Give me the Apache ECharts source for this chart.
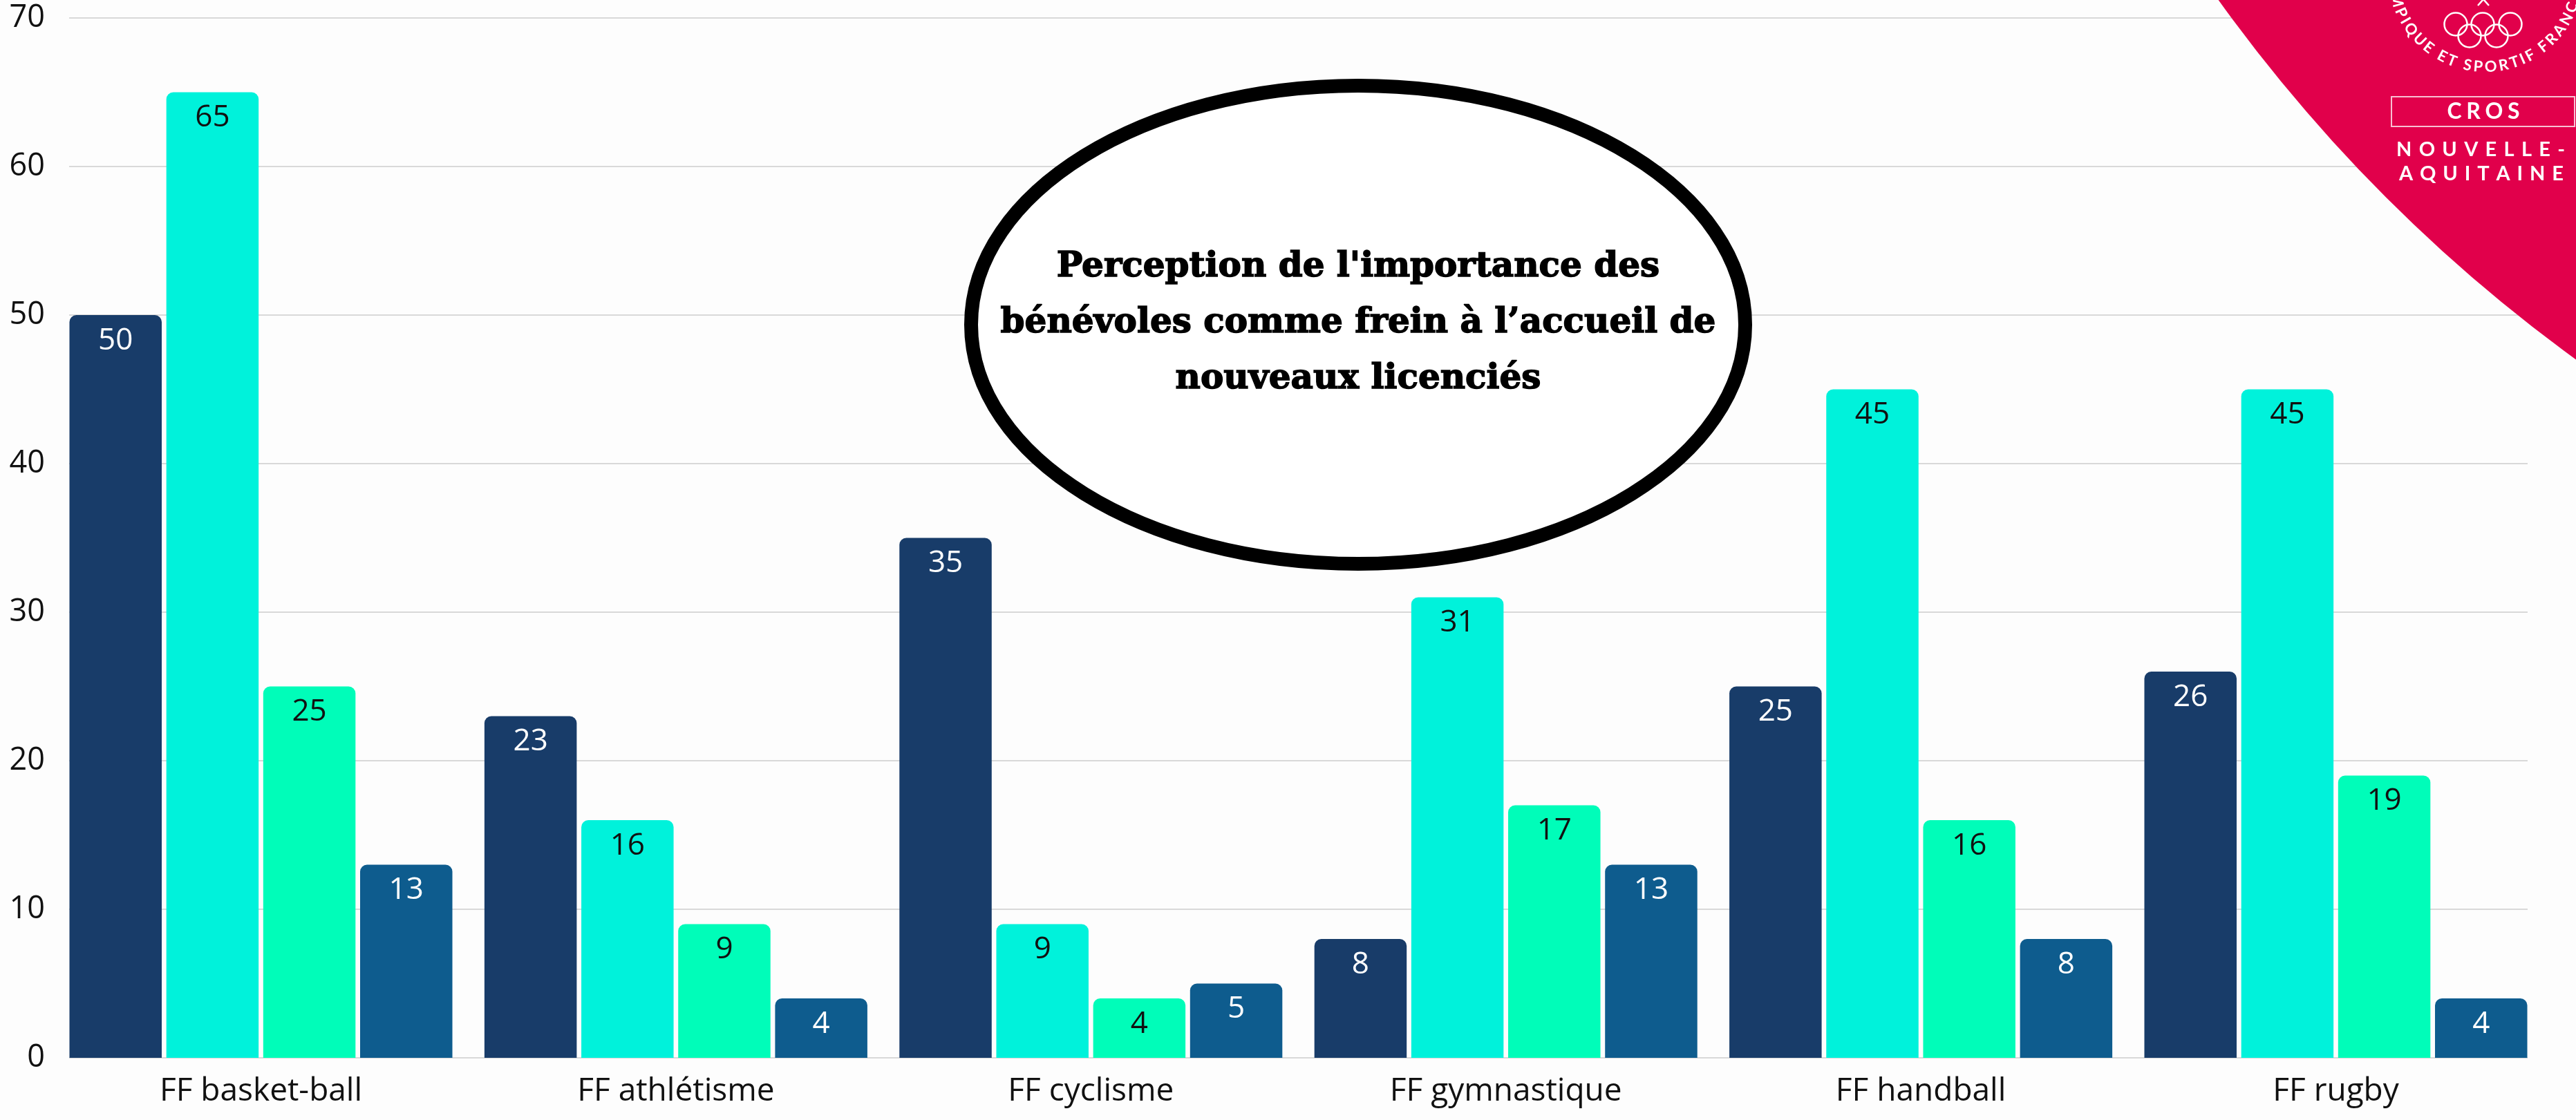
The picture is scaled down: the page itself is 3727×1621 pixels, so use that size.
<!DOCTYPE html>
<html><head><meta charset="utf-8">
<script src="https://cdn.jsdelivr.net/npm/echarts@6/dist/echarts.min.js"></script>
<style>html,body{margin:0;padding:0;background:#fdfdfd}#c{width:3727px;height:1621px}</style>
</head><body><div id="c"></div>
<script>
// ---- data ----
const categories = ['FF basket-ball', 'FF athlétisme', 'FF cyclisme', 'FF gymnastique', 'FF handball', 'FF rugby'];
const serie1 = [50, 23, 35, 8, 25, 26];
const serie2 = [65, 16, 9, 31, 45, 45];
const serie3 = [25, 9, 4, 17, 16, 19];
const serie4 = [13, 4, 5, 13, 8, 4];
const seriesNames = ['Série 1', 'Série 2', 'Série 3', 'Série 4'];
const yMin = 0, yMax = 70, yInterval = 10;
const titleLines = ["Perception de l'importance des", "bénévoles comme frein à l’accueil de", "nouveaux licenciés"];
const logoRing = 'OLYMPIQUE ET SPORTIF FRANÇAIS';
const logoLines = ['CROS', 'NOUVELLE-', 'AQUITAINE'];

// ---- styles ----
const colors = ['#183c69', '#00f2db', '#00fdb9', '#0e5c8e'];
const labelColors = ['#ffffff', '#111111', '#111111', '#ffffff'];
const FONT = '"Open Sans", "Noto Sans", sans-serif';
const RED = '#e1004b';

const chart = echarts.init(document.getElementById('c'));

const measureCtx = document.createElement('canvas').getContext('2d');
function charWidths(text, font) {
  measureCtx.font = font;
  return Array.from(text).map(ch => measureCtx.measureText(ch).width);
}
function spreadText(text, cx, cy, fontSize, fontWeight, family, totalWidth, z) {
  const ws = charWidths(text, fontWeight + ' ' + fontSize + 'px ' + family);
  const sum = ws.reduce((a, b) => a + b, 0);
  const sp = (totalWidth - sum) / (ws.length - 1);
  let x = cx - totalWidth / 2;
  const out = [];
  Array.from(text).forEach((ch, i) => {
    out.push({ type: 'text', x: x + ws[i] / 2, y: cy, z: z,
      style: { text: ch, fill: '#ffffff', fontSize: fontSize, fontWeight: fontWeight, fontFamily: family, align: 'center', verticalAlign: 'middle' } });
    x += ws[i] + sp;
  });
  return out;
}

const graphics = [];
// title ellipse
graphics.push({ type: 'ellipse', shape: { cx: 1965, cy: 470, rx: 560, ry: 346 },
  style: { fill: '#ffffff', stroke: '#000000', lineWidth: 20 }, z: 10 });
graphics.push({ type: 'text', x: 1965, y: 468, z: 11,
  style: { text: titleLines.join('\n'), fill: '#000000', stroke: '#000000', lineWidth: 1.6,
    fontSize: 50, fontWeight: 'bold',
    fontFamily: '"DejaVu Serif", serif', align: 'center', verticalAlign: 'middle', lineHeight: 81 } });

// logo
graphics.push({ type: 'circle', shape: { cx: 5080, cy: -1342, r: 2302 }, style: { fill: RED }, z: 20 });
(function () {
  const rc = { cx: 3596, cy: -37, r: 134 };
  const chars = Array.from(logoRing);
  const ws = charWidths(logoRing, 'bold 22px Lato');
  const iM = 3, iC = 25;            // anchors: 'M' at 164deg, 'Ç' at 21deg
  let base = 0;
  for (let i = iM; i < iC; i++) base += (ws[i] + ws[i + 1]) / 2;
  const arcLen = (164 - 21) * Math.PI / 180 * rc.r;
  const sp = (arcLen - base) / (iC - iM);
  const pos = [0];
  for (let i = 1; i < chars.length; i++) pos.push(pos[i - 1] + (ws[i - 1] + ws[i]) / 2 + sp);
  chars.forEach((ch, i) => {
    const thDeg = 164 - (pos[i] - pos[iM]) / rc.r * 180 / Math.PI;
    const th = thDeg * Math.PI / 180;
    graphics.push({ type: 'text', x: rc.cx + rc.r * Math.cos(th), y: rc.cy + rc.r * Math.sin(th),
      rotation: Math.PI / 2 - th, z: 21,
      style: { text: ch, fill: '#ffffff', fontSize: 22, fontWeight: 'bold', fontFamily: 'Lato, sans-serif', align: 'center', verticalAlign: 'middle' } });
  });
})();
[[3553, 35], [3592, 35], [3632, 35], [3573, 52], [3612, 52]].forEach(p => {
  graphics.push({ type: 'circle', shape: { cx: p[0], cy: p[1], r: 16.5 }, z: 21,
    style: { fill: 'none', stroke: '#ffffff', lineWidth: 2.5 } });
});
graphics.push({ type: 'polyline', shape: { points: [[3585, 8], [3593, -1], [3601, 8]] }, z: 21,
  style: { fill: 'none', stroke: '#ffffff', lineWidth: 2.5 } });
graphics.push({ type: 'rect', shape: { x: 3460, y: 140, width: 265, height: 43 }, z: 21,
  style: { fill: 'none', stroke: 'rgba(255,255,255,0.75)', lineWidth: 2 } });
spreadText(logoLines[0], 3593, 162, 32, 'bold', 'Lato', 105, 22).forEach(g => graphics.push(g));
spreadText(logoLines[1], 3589, 217, 29, 'bold', 'Lato', 244, 22).forEach(g => graphics.push(g));
spreadText(logoLines[2], 3590, 252, 29, 'bold', 'Lato', 238, 22).forEach(g => graphics.push(g));

const data = [serie1, serie2, serie3, serie4];
const series = data.map((d, i) => ({
  name: seriesNames[i], type: 'bar', xAxisIndex: 1, yAxisIndex: 1, data: d,
  barWidth: 133.5, barGap: '5%',
  itemStyle: { color: colors[i], borderRadius: [10, 10, 0, 0] },
  label: { show: true, position: 'insideTop', distance: 15, color: labelColors[i],
    fontSize: 44, lineHeight: 44, fontFamily: FONT },
  z: 2
}));

chart.setOption({
  backgroundColor: '#fdfdfd',
  animation: false,
  grid: [
    { left: 100, right: 70, top: 26, bottom: 90 },
    { left: 77.3, right: 47.3, top: 26, bottom: 90 }
  ],
  xAxis: [
    { gridIndex: 0, type: 'category', data: categories, axisLine: { show: false }, axisTick: { show: false }, axisLabel: { show: false } },
    { gridIndex: 1, type: 'category', data: categories, axisLine: { show: false }, axisTick: { show: false },
      axisLabel: { fontSize: 46, color: '#111111', margin: 26, fontFamily: FONT } }
  ],
  yAxis: [
    { gridIndex: 0, type: 'value', min: yMin, max: yMax, interval: yInterval,
      axisLine: { show: false }, axisTick: { show: false },
      axisLabel: { fontSize: 45, color: '#111111', margin: 35, fontFamily: FONT },
      splitLine: { lineStyle: { color: '#cccccc', width: 1.5 } } },
    { gridIndex: 1, type: 'value', min: yMin, max: yMax, interval: yInterval, show: false, splitLine: { show: false } }
  ],
  series: series,
  graphic: { elements: graphics }
});
</script></body></html>
